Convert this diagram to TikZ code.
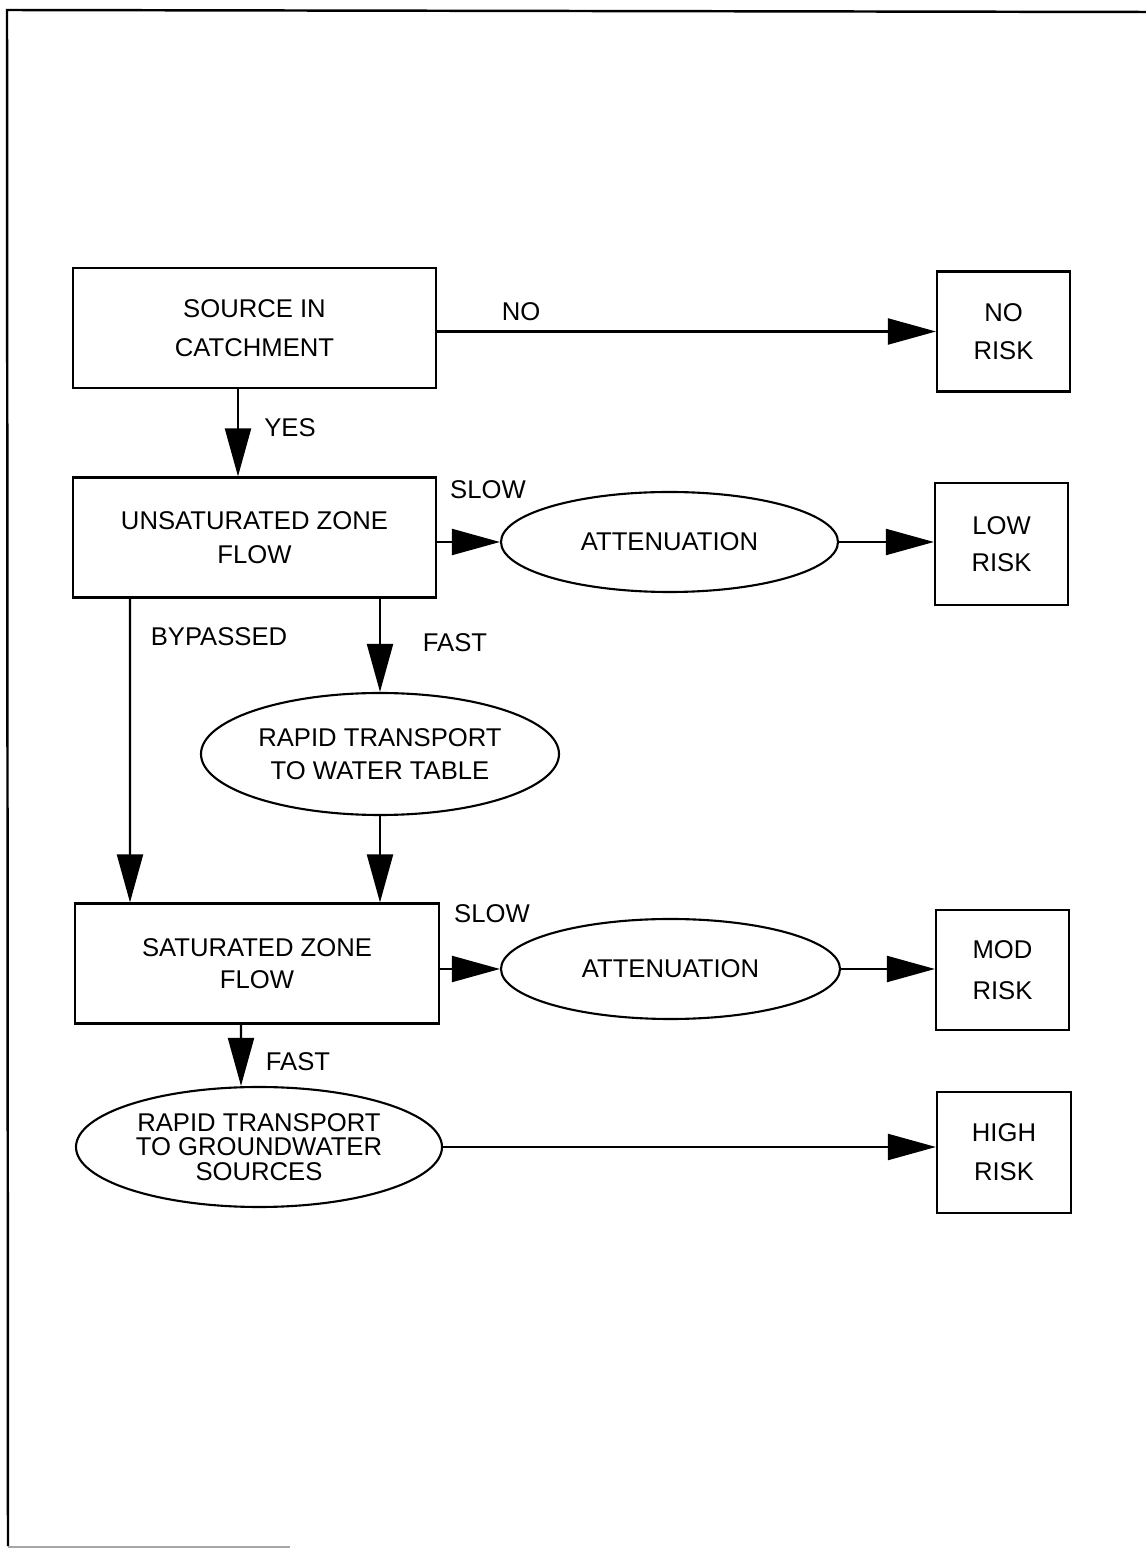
\documentclass[tikz,border=0pt]{standalone}
\usepackage{fontspec}
\setmainfont{Liberation Sans}
\usepackage{tikz}
\usetikzlibrary{
  arrows.meta,
  positioning,
  shapes.geometric,
}
\tikzset{
  every node/.append style={text=black},
  box/.style={
    draw,
    line width=0.6pt,
    minimum width=3.63cm,
    minimum height=1.20cm,
    inner sep=0pt,
    align=center,
    font={\fontsize{7.3}{10}\selectfont},
  },
  riskbox/.style={
    box,
    minimum width=1.33cm,
    font={\fontsize{7.3}{10.6}\selectfont},
  },
  oval/.style={
    shape=ellipse,
    draw,
    line width=0.6pt,
    inner sep=0pt,
    align=center,
    font={\fontsize{7.3}{9.4}\selectfont},
  },
  tag/.style={font={\fontsize{7.3}{9}\selectfont}, inner sep=0pt},
  arr/.style={line width=0.6pt, -{Triangle[length=4.8mm,width=2.6mm]}},
}

\begin{document}
\begin{tikzpicture}[x=1cm,y=1cm]
  \useasboundingbox (0,0) rectangle (11.46,15.49);
  % page frame of the scan
  \draw[line width=0.7pt] (0.08,0.03) -- (0.07,15.39) -- (11.46,15.37);
  \draw[black!35,line width=0.4pt] (0.08,0.02) -- (2.9,0.02);

  % boxes on the left
  \node[box,font={\fontsize{7.3}{11}\selectfont}] (source) at (2.545,12.21)
    {SOURCE IN\\CATCHMENT};
  \node[box,font={\fontsize{7.3}{9.6}\selectfont}] (unsat) at (2.545,10.115)
    {UNSATURATED ZONE\\FLOW};
  \node[box,minimum width=3.64cm,font={\fontsize{7.3}{9.2}\selectfont}] (sat)
    at (2.57,5.855) {SATURATED ZONE\\FLOW};

  % ellipses
  \node[oval,minimum width=3.37cm,minimum height=1.00cm] (atten1) at (6.695,10.07)
    {ATTENUATION};
  \node[oval,minimum width=3.58cm,minimum height=1.22cm] (rapidwt) at (3.80,7.95)
    {RAPID TRANSPORT\\TO WATER TABLE};
  \node[oval,minimum width=3.39cm,minimum height=1.00cm] (atten2) at (6.705,5.80)
    {ATTENUATION};
  \node[oval,minimum width=3.66cm,minimum height=1.20cm,
    font={\fontsize{7.3}{6.9}\selectfont}] (rapidgw) at (2.59,4.02)
    {RAPID TRANSPORT\\TO GROUNDWATER\\SOURCES};

  % risk boxes on the right
  \node[riskbox,text depth=-0.9mm] (norisk) at (10.035,12.175) {NO\\RISK};
  \node[riskbox,minimum height=1.22cm] (lowrisk) at (10.015,10.05) {LOW\\RISK};
  \node[riskbox,font={\fontsize{7.3}{11.5}\selectfont}] (modrisk) at (10.025,5.79)
    {MOD\\RISK};
  \node[riskbox,minimum width=1.34cm,minimum height=1.21cm,
    font={\fontsize{7.3}{11}\selectfont}] (highrisk) at (10.04,3.965) {HIGH\\RISK};

  % connectors
  \draw[arr] (source.east |- norisk.west) -- (norisk.west);
  \draw[arr] ([xshift=-1.65mm]source.south) -- ([xshift=-1.65mm]unsat.north);
  \draw[arr] (unsat.east |- atten1.west) -- (atten1.west);
  \draw[arr] (atten1.east) -- (atten1.east -| lowrisk.west);
  \draw[arr] ([xshift=-12.45mm]unsat.south) -- ([xshift=-12.7mm]sat.north);
  \draw[arr] (rapidwt.north |- unsat.south) -- (rapidwt.north);
  \draw[arr] (rapidwt.south) -- (rapidwt.south |- sat.north);
  \draw[arr] (sat.east |- atten2.west) -- (atten2.west);
  \draw[arr] (atten2.east) -- (atten2.east -| modrisk.west);
  \draw[arr] ([xshift=-1.6mm]sat.south) -- ([xshift=-1.8mm]rapidgw.north);
  \draw[arr] (rapidgw.east) -- (rapidgw.east -| highrisk.west);

  % labels
  \node[tag] (lblno) at (5.21,12.37) {NO};
  \node[tag] (lblyes) at (2.90,11.21) {YES};
  \node[tag] (lblslow1) at (4.88,10.59) {SLOW};
  \node[tag] (lblbypass) at (2.19,9.12) {BYPASSED};
  \node[tag] (lblfast1) at (4.55,9.06) {FAST};
  \node[tag] (lblslow2) at (4.92,6.35) {SLOW};
  \node[tag] (lblfast2) at (2.98,4.87) {FAST};
\end{tikzpicture}
\end{document}
